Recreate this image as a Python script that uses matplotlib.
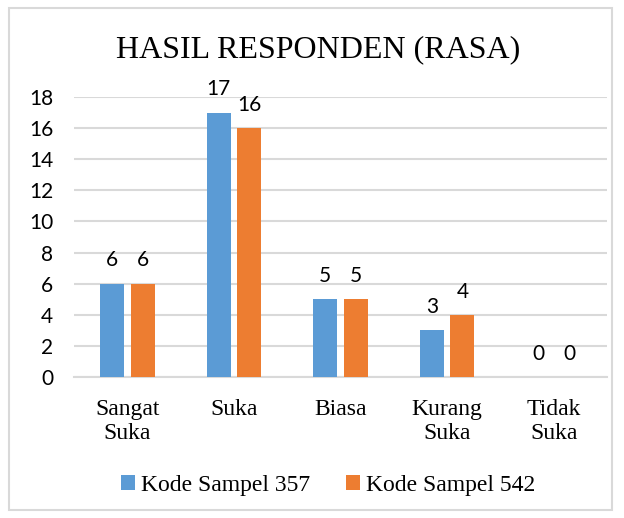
import matplotlib.pyplot as plt
import numpy as np
from matplotlib.patches import Rectangle

# Data
categories = ['Sangat\nSuka', 'Suka', 'Biasa', 'Kurang\nSuka', 'Tidak\nSuka']
sampel_357 = [6, 17, 5, 3, 0]
sampel_542 = [6, 16, 5, 4, 0]
series_names = ['Kode Sampel 357', 'Kode Sampel 542']

blue = '#5b9bd5'
orange = '#ed7d31'
serif = 'Liberation Serif'
sans = 'Lato'

W, H = 624, 518
fig = plt.figure(figsize=(W / 100, H / 100), dpi=100)

# outer frame of the chart
fig.patches.append(Rectangle((9 / W, 1 - 510 / H), (612 - 9) / W, (510 - 8) / H,
                             transform=fig.transFigure, fill=False,
                             edgecolor='#d9d9d9', linewidth=1.5))

ax = fig.add_axes([74 / W, 1 - 377 / H, (607 - 74) / W, (377 - 97) / H])

x = np.arange(len(categories))
w = 0.225
off = 0.143
b1 = ax.bar(x - off, sampel_357, w, color=blue, label=series_names[0], zorder=3)
b2 = ax.bar(x + off, sampel_542, w, color=orange, label=series_names[1], zorder=3)

for bars, vals in [(b1, sampel_357), (b2, sampel_542)]:
    for rect, v in zip(bars, vals):
        ax.text(rect.get_x() + rect.get_width() / 2, v + 0.85, str(v),
                ha='center', va='bottom', fontsize=15, family=sans, clip_on=False)

ax.set_xlim(-0.5, len(categories) - 0.5)
ax.set_ylim(0, 18)
ax.set_yticks(range(0, 19, 2))
ax.set_xticks(x)
ax.set_xticklabels(categories, family=serif, fontsize=17, linespacing=1.15)
for lbl in ax.get_yticklabels():
    lbl.set_family(sans)
    lbl.set_fontsize(15)
ax.tick_params(axis='both', length=0)
ax.tick_params(axis='x', pad=16)
ax.tick_params(axis='y', pad=15)
ax.grid(axis='y', color='#d9d9d9', linewidth=1.5, zorder=0)
for s in ['top', 'right', 'left']:
    ax.spines[s].set_visible(False)
ax.spines['bottom'].set_color('#d9d9d9')
ax.spines['bottom'].set_linewidth(1.5)

fig.text(318 / W, 1 - 50 / H, 'HASIL RESPONDEN (RASA)', ha='center', va='center',
         family=serif, fontsize=23)

fig.legend(handles=[b1, b2], loc='center', bbox_to_anchor=(328 / W, 1 - 485 / H),
           ncol=2, frameon=False, prop={'family': serif, 'size': 17},
           handlelength=0.6, handleheight=0.6, handletextpad=0.25, columnspacing=1.5)

fig.savefig('out.png', dpi=100)
